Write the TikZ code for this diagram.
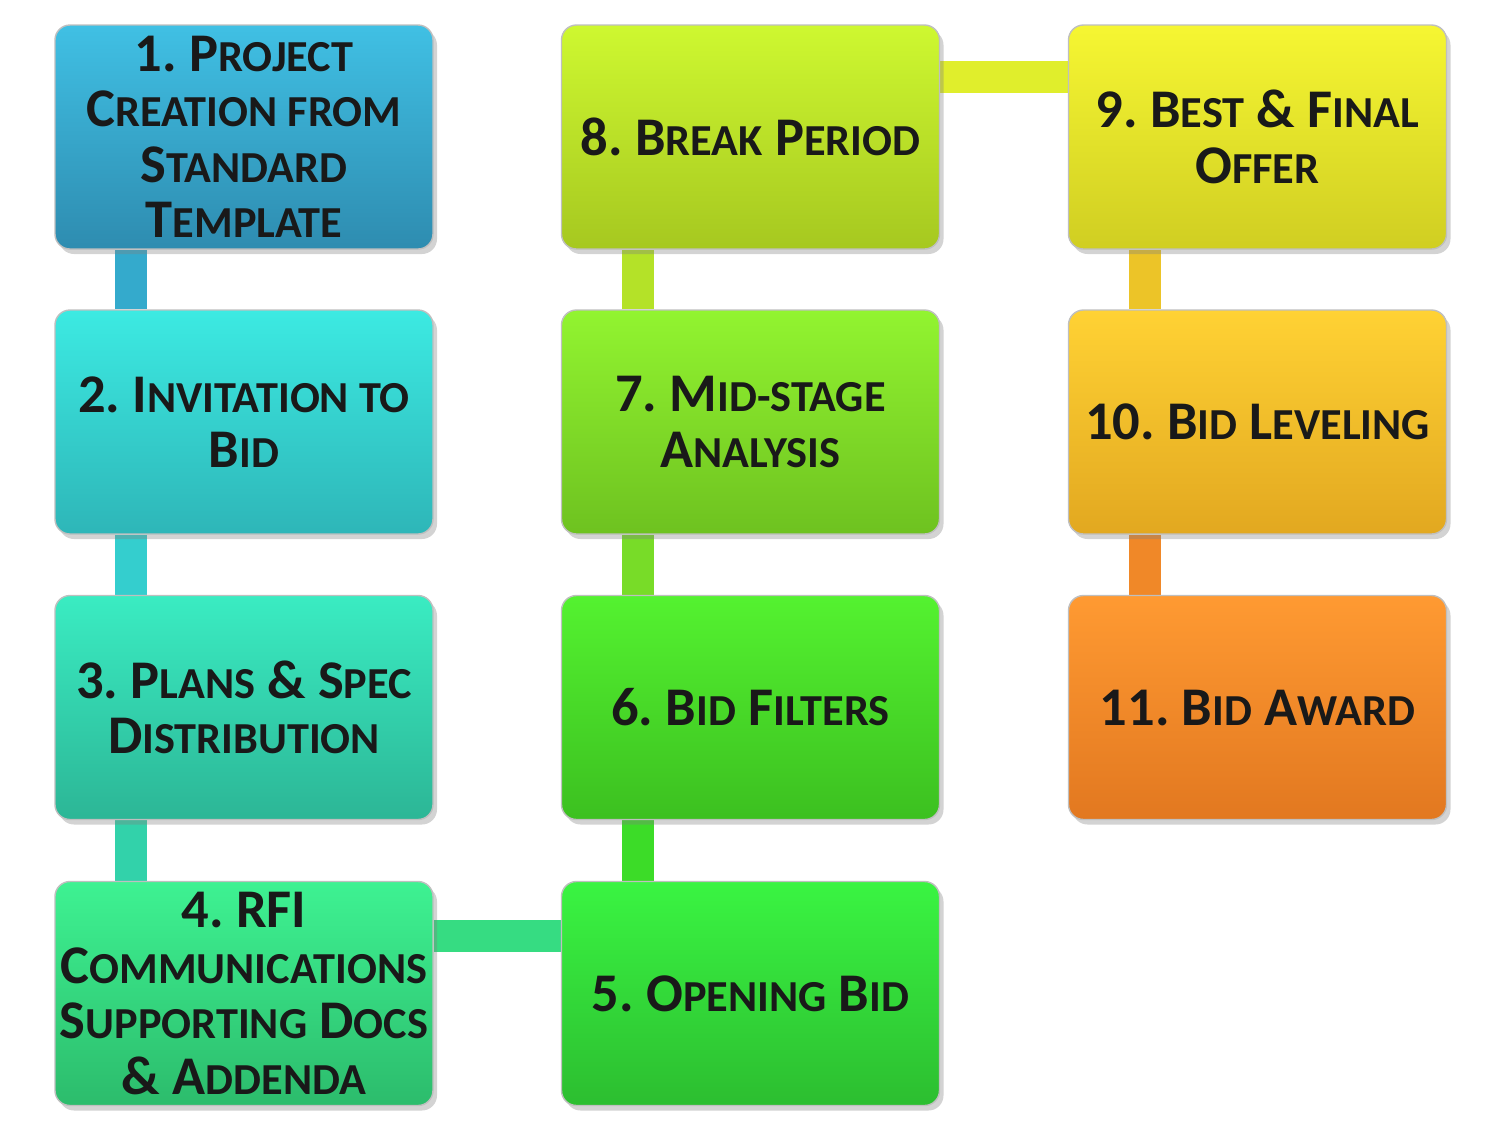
\documentclass[tikz,border=0pt]{standalone}
\usepackage{fontspec}
\setmainfont{Carlito}
\usetikzlibrary{positioning, calc, backgrounds, shadows}
\definecolor{stepText}{RGB}{25, 25, 25}
\newcommand{\stepfont}{\fontsize{15.5}{15.8}\selectfont\bfseries\frenchspacing}
\newcommand{\lc}[1]{{\fontsize{12.6}{15.8}\selectfont #1}}

\begin{document}
\begin{tikzpicture}
    \tikzstyle{stage} = [rectangle, rounded corners=0.15cm, minimum width=3.78cm, minimum height=2.24cm, inner sep=1pt, align=center, font=\stepfont, text=stepText, draw=black!25, line width=0.4pt, drop shadow={shadow xshift=0.04cm, shadow yshift=-0.05cm, opacity=0.35}]
    \tikzstyle{link} = [line width=0.32cm]
    \useasboundingbox (0,0) rectangle (15,-11.45);

    \node[stage, top color={rgb,255:red,64;green,192;blue,228}, bottom color={rgb,255:red,46;green,140;blue,176}] (s1) at (2.44,-1.37) {1. P\lc{ROJECT}\\C\lc{REATION FROM}\\S\lc{TANDARD}\\T\lc{EMPLATE}};
    \node[stage, top color={rgb,255:red,60;green,234;blue,226}, bottom color={rgb,255:red,46;green,182;blue,184}] (s2) at (2.44,-4.22) {2. I\lc{NVITATION TO}\\B\lc{ID}};
    \node[stage, top color={rgb,255:red,58;green,236;blue,194}, bottom color={rgb,255:red,44;green,182;blue,150}] (s3) at (2.44,-7.075) {3. P\lc{LANS} \& S\lc{PEC}\\D\lc{ISTRIBUTION}};
    \node[stage, top color={rgb,255:red,62;green,242;blue,146}, bottom color={rgb,255:red,44;green,188;blue,108}] (s4) at (2.44,-9.935) {4. RFI\\C\lc{OMMUNICATIONS}\\S\lc{UPPORTING} D\lc{OCS}\\\& A\lc{DDENDA}};
    \node[stage, top color={rgb,255:red,58;green,244;blue,66}, bottom color={rgb,255:red,44;green,190;blue,48}] (s5) at (7.505,-9.935) {5. O\lc{PENING} B\lc{ID}};
    \node[stage, top color={rgb,255:red,84;green,242;blue,48}, bottom color={rgb,255:red,60;green,192;blue,32}] (s6) at (7.505,-7.075) {6. B\lc{ID} F\lc{ILTERS}};
    \node[stage, top color={rgb,255:red,146;green,244;blue,48}, bottom color={rgb,255:red,110;green,194;blue,32}] (s7) at (7.505,-4.22) {7. M\lc{ID-STAGE}\\A\lc{NALYSIS}};
    \node[stage, top color={rgb,255:red,206;green,248;blue,48}, bottom color={rgb,255:red,166;green,200;blue,32}] (s8) at (7.505,-1.37) {8. B\lc{REAK} P\lc{ERIOD}};
    \node[stage, top color={rgb,255:red,246;green,246;blue,50}, bottom color={rgb,255:red,208;green,206;blue,34}] (s9) at (12.575,-1.37) {9. B\lc{EST} \& F\lc{INAL}\\O\lc{FFER}};
    \node[stage, top color={rgb,255:red,255;green,210;blue,52}, bottom color={rgb,255:red,226;green,168;blue,32}] (s10) at (12.575,-4.22) {10. B\lc{ID} L\lc{EVELING}};
    \node[stage, top color={rgb,255:red,255;green,154;blue,50}, bottom color={rgb,255:red,226;green,120;blue,32}] (s11) at (12.575,-7.075) {11. B\lc{ID} A\lc{WARD}};

    % connecting bars behind the boxes
    \begin{scope}[on background layer]
        \draw[link, color={rgb,255:red,52;green,170;blue,204}] ($(s1.south west)+(0.77,0)$) -- ($(s2.north west)+(0.77,0)$);
        \draw[link, color={rgb,255:red,52;green,206;blue,206}] ($(s2.south west)+(0.77,0)$) -- ($(s3.north west)+(0.77,0)$);
        \draw[link, color={rgb,255:red,50;green,210;blue,170}] ($(s3.south west)+(0.77,0)$) -- ($(s4.north west)+(0.77,0)$);
        \draw[link, color={rgb,255:red,54;green,220;blue,130}] ($(s4.north east)+(0,-0.55)$) -- ($(s5.north west)+(0,-0.55)$);
        \draw[link, color={rgb,255:red,60;green,220;blue,40}] ($(s5.north west)+(0.77,0)$) -- ($(s6.south west)+(0.77,0)$);
        \draw[link, color={rgb,255:red,120;green,220;blue,40}] ($(s6.north west)+(0.77,0)$) -- ($(s7.south west)+(0.77,0)$);
        \draw[link, color={rgb,255:red,180;green,226;blue,40}] ($(s7.north west)+(0.77,0)$) -- ($(s8.south west)+(0.77,0)$);
        \draw[link, color={rgb,255:red,224;green,238;blue,44}] ($(s8.north east)+(0,-0.53)$) -- ($(s9.north west)+(0,-0.53)$);
        \draw[link, color={rgb,255:red,236;green,196;blue,40}] ($(s9.south west)+(0.77,0)$) -- ($(s10.north west)+(0.77,0)$);
        \draw[link, color={rgb,255:red,240;green,136;blue,40}] ($(s10.south west)+(0.77,0)$) -- ($(s11.north west)+(0.77,0)$);
    \end{scope}
\end{tikzpicture}
\end{document}
